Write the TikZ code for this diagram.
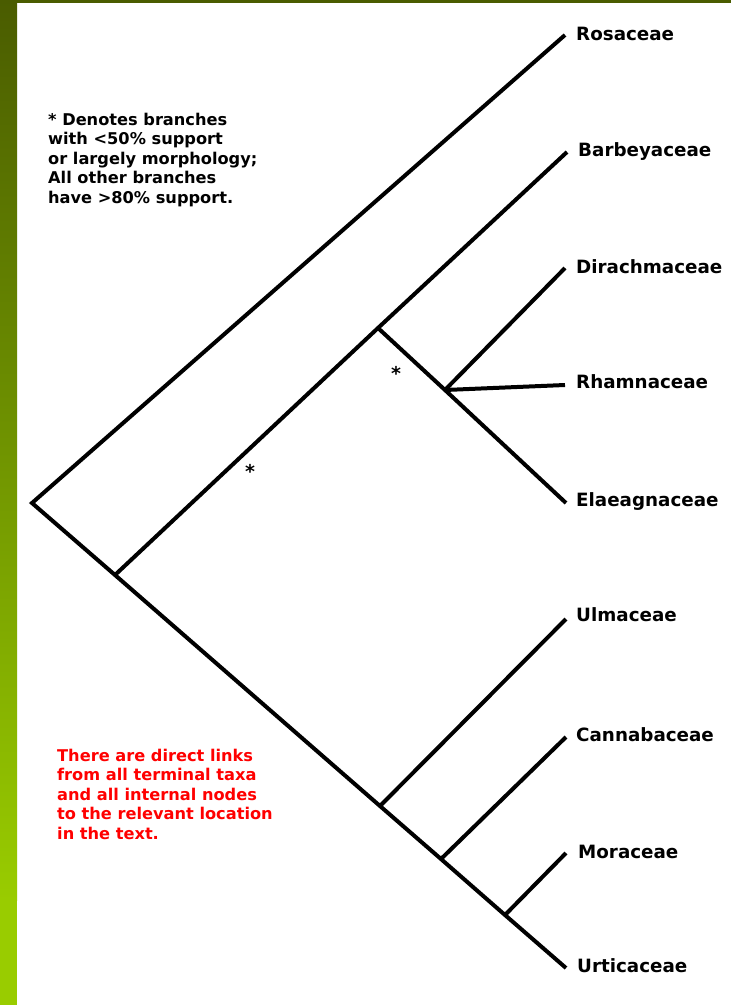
\documentclass[tikz,border=0pt]{standalone}
\usepackage{fontspec}
\setmainfont{DejaVu Sans}
\begin{document}
\begin{tikzpicture}[x=1pt,y=-1pt,
  branch/.style={line width=4pt, line join=miter},
  taxon/.style={anchor=west, inner sep=0pt, font=\bfseries\fontsize{18.3}{20}\selectfont},
  note/.style={anchor=north west, inner sep=0pt, align=left, font=\bfseries\fontsize{16.2}{19.4}\selectfont},
  star/.style={inner sep=0pt, font=\bfseries\fontsize{19}{20}\selectfont}]
\definecolor{olive}{RGB}{74,92,0}
\definecolor{lime}{RGB}{153,204,0}
\definecolor{midgreen}{RGB}{112,148,0}
\definecolor{notered}{RGB}{255,0,0}
% page
\useasboundingbox (0,0) rectangle (731,1005);
\fill[white] (0,0) rectangle (731,1005);
\fill[olive] (0,0) rectangle (731,3);
\shade[top color=olive, bottom color=lime, middle color=midgreen] (0,0) rectangle (17,900);
\fill[lime] (0,899.5) rectangle (17,1005);
% internal nodes
\coordinate (root) at (32,503);
\coordinate (nA) at (115,575);
\coordinate (nB) at (378,328);
\coordinate (nC) at (445,390);
\coordinate (nD) at (380,806);
\coordinate (nE) at (441,859);
\coordinate (nF) at (505,915);
% tips
\coordinate (tRos) at (565,35);
\coordinate (tBar) at (567,152);
\coordinate (tDir) at (565,268);
\coordinate (tRha) at (565,385);
\coordinate (tEla) at (566,503);
\coordinate (tUlm) at (566,619);
\coordinate (tCan) at (566,737);
\coordinate (tMor) at (566,853);
\coordinate (tUrt) at (566,968);
% labels
\node[taxon] (lRos) at (576,34) {Rosaceae};
\node[taxon] (lBar) at (578,152) {Barbeyaceae};
\node[taxon] (lDir) at (576,267) {Dirachmaceae};
\node[taxon] (lRha) at (576,382) {Rhamnaceae};
\node[taxon] (lEla) at (576,502) {Elaeagnaceae};
\node[taxon] (lUlm) at (576,615) {Ulmaceae};
\node[taxon] (lCan) at (576,735) {Cannabaceae};
\node[taxon] (lMor) at (578,852) {Moraceae};
\node[taxon] (lUrt) at (577,966) {Urticaceae};
% branches
\draw[branch] (tRos) -- (root) -- (nA) -- (nD) -- (nE) -- (nF) -- (tUrt);
\draw[branch] (nA) -- (nB) -- (tBar);
\draw[branch] (nB) -- (nC) -- (tEla);
\draw[branch] (nC) -- (tDir);
\draw[branch] (nC) -- (tRha);
\draw[branch] (nD) -- (tUlm);
\draw[branch] (nE) -- (tCan);
\draw[branch] (nF) -- (tMor);
% asterisks
\node[star] (s1) at (396,373) {*};
\node[star] (s2) at (250,471) {*};
% notes
\node[note] (legend) at (48,113) {* Denotes branches\\with <50\% support\\or largely morphology;\\All other branches\\have >80\% support.};
\node[note, text=notered] (links) at (57,749) {There are direct links\\from all terminal taxa\\and all internal nodes\\to the relevant location\\in the text.};
\end{tikzpicture}
\end{document}
